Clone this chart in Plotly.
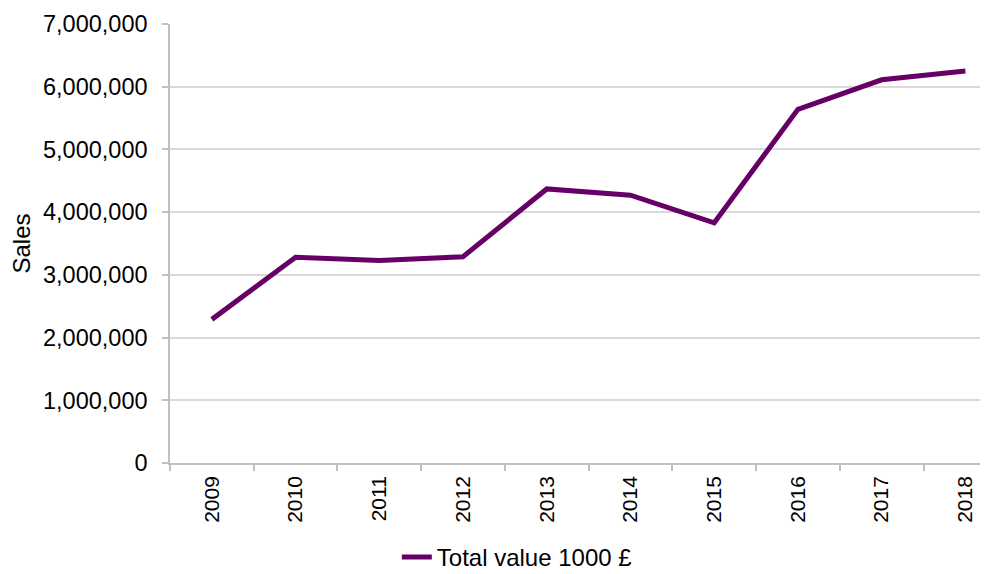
import plotly.graph_objects as go

years = ["2009", "2010", "2011", "2012", "2013", "2014", "2015", "2016", "2017", "2018"]
total_value = [2290000, 3280000, 3230000, 3290000, 4370000, 4270000, 3830000, 5640000, 6110000, 6250000]
y_ticks = [0, 1000000, 2000000, 3000000, 4000000, 5000000, 6000000, 7000000]

font_family = "Liberation Sans, Arial, sans-serif"
grid_color = "#d9d9d9"
axis_color = "#bfbfbf"

fig = go.Figure()
fig.add_trace(
    go.Scatter(
        x=years,
        y=total_value,
        mode="lines",
        name="Total value 1000 £",
        line=dict(color="#660066", width=5),
    )
)

# page body has an 8px margin, so the figure is shifted a bit inside the window
fig.update_layout(
    width=980,
    height=572,
    margin=dict(l=162, r=0, t=16, b=117),
    paper_bgcolor="white",
    plot_bgcolor="white",
    font=dict(family=font_family, color="black", size=23),
    showlegend=True,
    legend=dict(
        orientation="h",
        x=0.424,
        xanchor="center",
        y=-0.2665,
        yanchor="bottom",
        font=dict(size=24),
        bgcolor="rgba(0,0,0,0)",
    ),
)

fig.update_xaxes(
    type="category",
    range=[-0.5, 9.27],
    automargin=False,
    tickangle=-90,
    tickfont=dict(size=21),
    ticklabelstandoff=3,
    showgrid=False,
    showline=True,
    linecolor=axis_color,
    linewidth=1.5,
    ticks="outside",
    tickson="boundaries",
    ticklen=6,
    tickcolor=axis_color,
    tickwidth=1.5,
)

fig.update_yaxes(
    range=[0, 7000000],
    automargin=False,
    tickvals=y_ticks,
    tickformat=",d",
    tickfont=dict(size=23.5),
    ticklabelstandoff=10,
    showgrid=True,
    gridcolor=grid_color,
    gridwidth=1.5,
    zeroline=False,
    showline=True,
    linecolor=axis_color,
    linewidth=1.5,
    ticks="outside",
    ticklen=6,
    tickcolor=axis_color,
    tickwidth=1.5,
    title=dict(text="Sales", font=dict(size=24), standoff=6),
)

fig.write_html("out.html")
